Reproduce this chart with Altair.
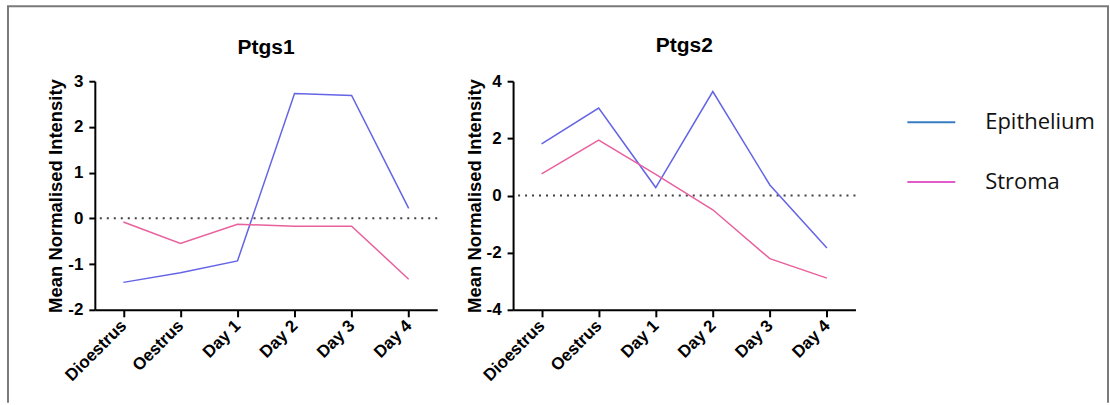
import altair as alt
import pandas as pd

stages = ["Dioestrus", "Oestrus", "Day 1", "Day 2", "Day 3", "Day 4"]
series = ["Epithelium", "Stroma"]

ptgs1_epithelium = [-1.40, -1.19, -0.93, 2.73, 2.69, 0.22]
ptgs1_stroma = [-0.08, -0.55, -0.13, -0.17, -0.17, -1.33]
ptgs2_epithelium = [1.81, 3.06, 0.28, 3.64, 0.37, -1.84]
ptgs2_stroma = [0.76, 1.94, 0.74, -0.50, -2.21, -2.89]

line_colors = ["#6464e6", "#e8609e"]
legend_colors = ["#3a7cc0", "#e05cc8"]

FONT = "Liberation Sans"
MINUS_FIX = "replace(datum.label, '\u2212', '-')"


def long_df(epi, stro):
    rows = []
    for s, vals in zip(series, [epi, stro]):
        for st, v in zip(stages, vals):
            rows.append({"stage": st, "series": s, "value": v})
    return pd.DataFrame(rows)


def panel(title, epi, stro, domain, ticks, frame=False, title_dy=0):
    df = long_df(epi, stro)
    x = alt.X("stage:N", sort=stages, title=None,
              scale=alt.Scale(type="point", padding=0.5),
              axis=alt.Axis(labelAngle=-45, labelAlign="right", labelBaseline="middle",
                            tickSize=7, labelPadding=6))
    y = alt.Y("value:Q", title="Mean Normalised Intensity",
              scale=alt.Scale(domain=domain, nice=False, zero=False),
              axis=alt.Axis(values=ticks, tickSize=6, labelPadding=6, titlePadding=2,
                            labelExpr=MINUS_FIX))
    zero = alt.Chart(pd.DataFrame({"value": [0]})).mark_rule(
        strokeDash=[2, 5], color="#404040", strokeWidth=2
    ).encode(y=alt.Y("value:Q"))
    base = alt.Chart(df)
    legend_layer = base.mark_line(strokeWidth=1.5, strokeOpacity=0).encode(
        x=x, y=y,
        color=alt.Color("series:N", scale=alt.Scale(domain=series, range=legend_colors),
                        legend=alt.Legend(title=None)),
    )
    visible = [
        base.transform_filter(alt.datum.series == s).mark_line(strokeWidth=1.5, color=c).encode(x=x, y=y)
        for s, c in zip(series, line_colors)
    ]
    layers = [zero, legend_layer] + visible
    if frame:
        one = pd.DataFrame({"a": [0]})
        fstyle = dict(color="#7a7a7a", strokeWidth=2)
        top = alt.Chart(one).mark_rule(**fstyle).encode(
            x=alt.value(-88), x2=alt.value(1016), y=alt.value(-75))
        left = alt.Chart(one).mark_rule(**fstyle).encode(
            x=alt.value(-87), y=alt.value(-75), y2=alt.value(322))
        right = alt.Chart(one).mark_rule(**fstyle).encode(
            x=alt.value(1015), y=alt.value(-75), y2=alt.value(322))
        layers = [top, left, right] + layers
    return alt.layer(*layers).properties(
        width=343, height=229,
        title=alt.TitleParams(title, fontSize=21, font=FONT, fontWeight="bold",
                              offset=16, dy=title_dy),
    )


p1 = panel("Ptgs1", ptgs1_epithelium, ptgs1_stroma, [-2, 3], [-2, -1, 0, 1, 2, 3],
           frame=True, title_dy=69)
p2 = panel("Ptgs2", ptgs2_epithelium, ptgs2_stroma, [-4, 4], [-4, -2, 0, 2, 4])

chart = alt.hconcat(p1, p2, spacing=76, bounds="flush").properties(
    padding={"left": 6, "top": 5, "right": 0, "bottom": 1},
).configure_view(stroke=None).configure_axis(
    domainColor="black", domainWidth=2, tickColor="black", tickWidth=2,
    labelFont=FONT, labelFontSize=17, labelFontWeight="bold", labelColor="black",
    titleFont=FONT, titleFontSize=18.5, titleFontWeight="bold", titleColor="black",
    grid=False,
).configure_axisX(labelFontSize=17).configure_legend(
    orient="none", legendX=813, legendY=16, padding=0,
    symbolType="stroke", symbolSize=2304, symbolStrokeWidth=2, symbolOpacity=1,
    labelFont="Open Sans", labelFontSize=22, labelColor="#111111",
    labelOffset=29, rowPadding=24,
)

chart.save("out.html", embed_options={"renderer": "svg", "actions": False})
